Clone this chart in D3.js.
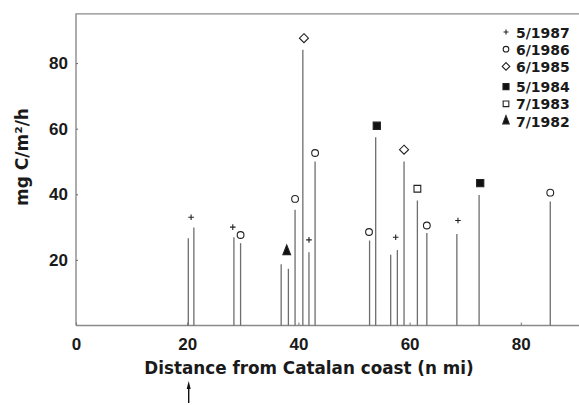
<!DOCTYPE html>
<html>
<head>
<meta charset="utf-8">
<script src="https://cdn.jsdelivr.net/npm/d3@7"></script>
<style>
    body { margin: 0; background: #fff; }
    svg { display: block; font-family: 'DejaVu Sans', sans-serif; font-weight: bold; }
    .frame { stroke: #8a8a8a; stroke-width: 1.4; fill: none; }
    .bar { stroke: #6e6e6e; stroke-width: 1.3; }
    .marker { stroke: #222; stroke-width: 1.1; }
</style>
</head>
<body>
<div id="chart"></div>
<script>
// station distances (n mi) and production values (mg C/m2/h)
const barDistances = [20.2, 21.2, 28.4, 29.6, 36.9, 38.2, 39.4, 40.8, 41.9, 43.0,
                      52.8, 53.9, 56.6, 57.8, 59.0, 61.4, 63.1, 68.5, 72.5, 85.3];
const barValues    = [26.6, 29.9, 26.9, 25.1, 18.7, 17.3, 35.3, 84.1, 22.3, 50.0,
                      25.9, 57.4, 21.6, 23.0, 50.0, 38.1, 28.2, 27.9, 39.8, 37.8];

// cruise markers drawn above the bars
const cruises = ['5/1987', '6/1986', '6/1985', '5/1984', '7/1983', '7/1982'];
const markerCruise    = ['5/1987', '5/1987', '5/1987', '5/1987', '5/1987',
                         '6/1986', '6/1986', '6/1986', '6/1986', '6/1986', '6/1986',
                         '6/1985', '6/1985',
                         '5/1984', '5/1984',
                         '7/1983',
                         '7/1982'];
const markerDistances = [20.7, 28.2, 41.9, 57.5, 68.7,
                         29.6, 39.4, 43.0, 52.7, 63.1, 85.3,
                         41.0, 59.0,
                         54.1, 72.7,
                         61.4,
                         37.9];
const markerValues    = [33.0, 30.0, 26.1, 26.9, 32.0,
                         27.6, 38.6, 52.6, 28.5, 30.5, 40.5,
                         87.6, 53.6,
                         60.9, 43.4,
                         41.7,
                         22.6];

const xTicks = [0, 20, 40, 60, 80];
const yTicks = [20, 40, 60, 80];

const width = 579, height = 405;
const x = d3.scaleLinear().domain([0, 90]).range([76, 576.4]);
const y = d3.scaleLinear().domain([0, 95]).range([325.5, 13.9]);

const svg = d3.select('#chart').append('svg')
    .attr('width', width)
    .attr('height', height);

function symbolPath(cruise, big) {
    let s = big ? 1 : 0.7;
    switch (cruise) {
        case '5/1987': return {type: d3.symbolCross, size: 14 * s, fill: '#222', plus: true};
        case '6/1986': return {type: d3.symbolCircle, size: 36 * s, fill: 'none'};
        case '6/1985': return {type: d3.symbolDiamond2, size: 52 * s, fill: 'none'};
        case '5/1984': return {type: d3.symbolSquare, size: 52 * s, fill: '#111'};
        case '7/1983': return {type: d3.symbolSquare, size: 46 * s, fill: 'none'};
        case '7/1982': return {type: d3.symbolTriangle, size: 36 * s, fill: '#111'};
    }
}

function drawMarker(g, cruise, cx, cy, big) {
    let m = symbolPath(cruise, big);
    if (m.plus) {
        let r = big ? 2.8 : 2.5;
        g.append('path')
            .attr('class', 'marker')
            .attr('d', `M${cx - r},${cy}H${cx + r}M${cx},${cy - r}V${cy + r}`);
        return;
    }
    g.append('path')
        .attr('class', 'marker')
        .attr('transform', `translate(${cx},${cy})` + (cruise === '7/1982' ? ' scale(0.85,1.25)' : ''))
        .attr('d', d3.symbol().type(m.type).size(m.size)())
        .attr('fill', m.fill);
}

// frame
svg.append('path')
    .attr('class', 'frame')
    .attr('d', `M${x(0)},${y(0)}V${y(95)}H${width}`);
svg.append('line')
    .attr('class', 'frame')
    .attr('x1', x(0)).attr('x2', width)
    .attr('y1', y(0)).attr('y2', y(0));

// axes
let yAxis = svg.append('g')
    .attr('transform', `translate(${x(0)},0)`)
    .call(d3.axisLeft(y).tickValues(yTicks).tickSize(-2).tickPadding(8));
yAxis.select('.domain').remove();
yAxis.selectAll('text').attr('font-size', 17).attr('font-family', null).attr('fill', '#1a1a1a');
yAxis.selectAll('line').attr('stroke', '#666');

let xAxis = svg.append('g')
    .attr('transform', `translate(0,${y(0)})`)
    .call(d3.axisBottom(x).tickValues(xTicks).tickSize(-3).tickPadding(12));
xAxis.select('.domain').remove();
xAxis.selectAll('text').attr('font-size', 17).attr('font-family', null).attr('fill', '#1a1a1a');
xAxis.selectAll('line').attr('stroke', '#777');

// bars
svg.append('g')
    .selectAll('line')
    .data(barDistances)
    .enter().append('line')
    .attr('class', 'bar')
    .attr('x1', d => x(d))
    .attr('x2', d => x(d))
    .attr('y1', y(0))
    .attr('y2', (d, i) => y(barValues[i]));

// markers
let markers = svg.append('g');
markerCruise.forEach((c, i) => drawMarker(markers, c, x(markerDistances[i]), y(markerValues[i]), true));

// legend
let legend = svg.append('g');
cruises.forEach((c, i) => {
    let ly = 32 + i * 17.2 + (i >= 3 ? 3 : 0);
    drawMarker(legend, c, 506, ly, false);
    legend.append('text')
        .attr('x', 516)
        .attr('y', ly + 5.5)
        .attr('font-size', 14)
        .attr('fill', '#1a1a1a')
        .text(c);
});

// titles
svg.append('text')
    .attr('x', 309)
    .attr('y', 374)
    .attr('text-anchor', 'middle')
    .attr('font-size', 16.8)
    .attr('fill', '#1a1a1a')
    .text('Distance from Catalan coast (n mi)');

svg.append('text')
    .attr('transform', 'translate(28,157) rotate(-90)')
    .attr('text-anchor', 'middle')
    .attr('font-size', 17)
    .attr('fill', '#1a1a1a')
    .text('mg C/m²/h');

// arrow under 20 n mi
svg.append('line')
    .attr('x1', x(20) + 1.5).attr('x2', x(20) + 1.5)
    .attr('y1', 386).attr('y2', 403)
    .attr('stroke', '#111').attr('stroke-width', 1.4);
svg.append('path')
    .attr('d', `M${x(20) + 1.5},381L${x(20) - 0.5},389H${x(20) + 3.5}Z`)
    .attr('fill', '#111');
</script>
</body>
</html>
